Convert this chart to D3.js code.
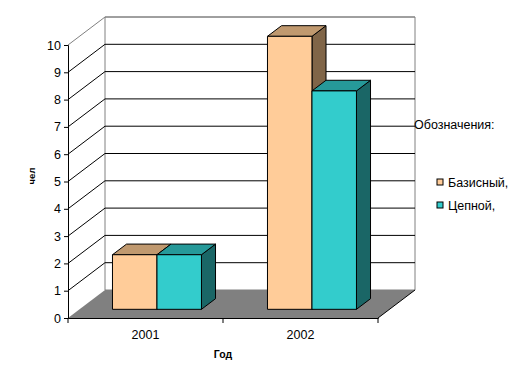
<!DOCTYPE html>
<html>
<head>
<meta charset="utf-8">
<script src="https://cdn.jsdelivr.net/npm/d3@7"></script>
<style>
  body { margin: 0; background: #fff; }
  text { font-family: "Liberation Sans", Arial, sans-serif; }
</style>
</head>
<body>
<script>
// chart data
var categories = ["2001", "2002"];
var seriesNames = ["Базисный,", "Цепной,"];
var basicValues = [2, 10];
var chainValues = [2, 8];
var yTicks = [0, 1, 2, 3, 4, 5, 6, 7, 8, 9, 10];

var W = 524, H = 387;
var depthX = 37, depthY = 28;      // offset of back wall
var barD0 = 0.31, barD1 = 0.69;    // bar depth range (fraction)
var faces = [
    {front: "#ffcc99", top: "#c0996f", side: "#806548"},
    {front: "#33cccc", top: "#269999", side: "#1a6666"}
];

var svg = d3.select("body").append("svg")
    .attr("width", W)
    .attr("height", H);

var x = d3.scaleBand().domain(categories).range([68, 378]).padding(0);
var xs = d3.scaleBand().domain(seriesNames).range([0, x.bandwidth()]).paddingInner(0).paddingOuter(0.742);
var y = d3.scaleLinear().domain([0, 10]).range([318, 45]);

// project a point (px, value, depth fraction)
function P(px, v, d) {
    return [px + d * depthX, y(v) - d * depthY];
}
function poly(pts) {
    return pts.map(function (p) { return p.join(","); }).join(" ");
}

var x0 = x.range()[0], x1 = x.range()[1];

// back wall
svg.append("polygon")
    .attr("points", poly([P(x0, 0, 1), P(x0, 10, 1), P(x1, 10, 1), P(x1, 0, 1)]))
    .attr("fill", "#fff")
    .attr("stroke", "#808080");

// floor
svg.append("polygon")
    .attr("points", poly([P(x0, 0, 0), P(x0, 0, 1), P(x1, 0, 1), P(x1, 0, 0)]))
    .attr("fill", "#808080")
    .attr("stroke", "none");
svg.append("line")
    .attr("x1", P(x1, 0, 0)[0]).attr("y1", P(x1, 0, 0)[1])
    .attr("x2", P(x1, 0, 1)[0]).attr("y2", P(x1, 0, 1)[1])
    .attr("stroke", "#000");

// gridlines (side wall diagonal + back wall horizontal)
svg.append("g").selectAll("polyline")
    .data(yTicks.filter(function (t) { return t > 0; }))
    .join("polyline")
    .attr("points", function (t) { return poly([P(x0, t, 0), P(x0, t, 1), P(x1, t, 1)]); })
    .attr("fill", "none")
    .attr("stroke", function (t) { return t === 10 ? "#808080" : "#000"; });

// bars
var series = [basicValues, chainValues];
categories.forEach(function (c, ci) {
    seriesNames.forEach(function (s, si) {
        var v = series[si][ci];
        var l = x(c) + xs(s), r = l + xs.bandwidth();
        var g = svg.append("g").attr("stroke", "#000").attr("stroke-linejoin", "round");
        g.append("polygon")
            .attr("points", poly([P(r, 0, barD0), P(r, 0, barD1), P(r, v, barD1), P(r, v, barD0)]))
            .attr("fill", faces[si].side);
        g.append("polygon")
            .attr("points", poly([P(l, v, barD0), P(l, v, barD1), P(r, v, barD1), P(r, v, barD0)]))
            .attr("fill", faces[si].top);
        g.append("polygon")
            .attr("points", poly([P(l, 0, barD0), P(l, v, barD0), P(r, v, barD0), P(r, 0, barD0)]))
            .attr("fill", faces[si].front);
    });
});

// y axis
var yAxis = svg.append("g")
    .attr("transform", "translate(" + x0 + ",0)")
    .call(d3.axisLeft(y).tickValues(yTicks).tickSize(4).tickPadding(3).tickFormat(d3.format("d")));
yAxis.select(".domain").attr("stroke", "#000");
yAxis.selectAll("text").attr("font-size", 12.5).attr("fill", "#000").attr("font-family", "Liberation Sans, Arial, sans-serif");

// x axis
var xAxis = svg.append("g")
    .attr("transform", "translate(0," + y(0) + ")")
    .call(d3.axisBottom(x).tickSizeInner(0).tickSizeOuter(0).tickPadding(12));
xAxis.select(".domain").attr("stroke", "#000");
xAxis.selectAll("text").attr("font-size", 12.5).attr("fill", "#000").attr("font-family", "Liberation Sans, Arial, sans-serif");
xAxis.selectAll(".sep")
    .data([x0, x(categories[1]), x1])
    .join("line")
    .attr("class", "sep")
    .attr("x1", function (d) { return d; }).attr("x2", function (d) { return d; })
    .attr("y1", 0).attr("y2", 5)
    .attr("stroke", "#000");

// axis titles
svg.append("text")
    .attr("transform", "translate(35,176) rotate(-90)")
    .attr("text-anchor", "middle")
    .attr("font-size", 9.5)
    .attr("font-weight", "bold")
    .text("чел");
svg.append("text")
    .attr("x", 223).attr("y", 358)
    .attr("text-anchor", "middle")
    .attr("font-size", 10.5)
    .attr("font-weight", "bold")
    .text("Год");

// legend
svg.append("text")
    .attr("x", 414).attr("y", 129)
    .attr("font-size", 12.5)
    .text("Обозначения:");
var leg = svg.append("g").selectAll("g")
    .data(seriesNames)
    .join("g")
    .attr("transform", function (d, i) { return "translate(437," + (179 + i * 23) + ")"; });
leg.append("rect")
    .attr("width", 6).attr("height", 6)
    .attr("fill", function (d, i) { return faces[i].front; })
    .attr("stroke", "#000");
leg.append("text")
    .attr("x", 11).attr("y", 8)
    .attr("font-size", 12.5)
    .text(function (d) { return d; });
</script>
</body>
</html>
